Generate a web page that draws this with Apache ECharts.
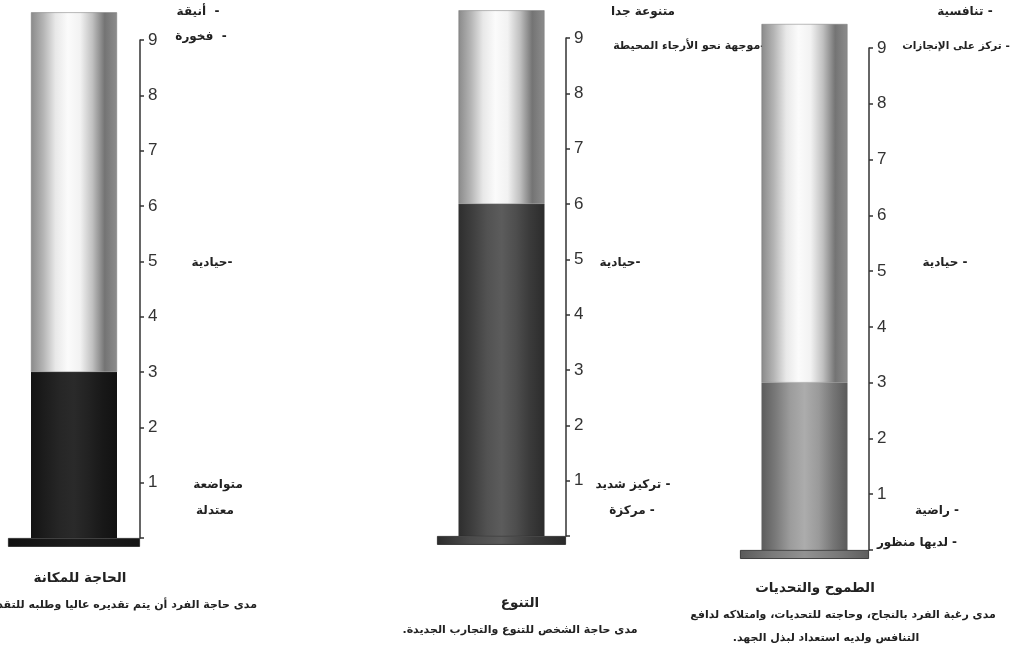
<!DOCTYPE html>
<html>
<head>
<meta charset="utf-8">
<script src="https://cdn.jsdelivr.net/npm/echarts@6/dist/echarts.min.js"></script>
<style>
  html, body { margin: 0; padding: 0; background: #fff; }
  #mainChart { width: 1020px; height: 649px; }
</style>
</head>
<body>
<div id="mainChart"></div>
<script>
// 数据
const panelNames = ['الحاجة للمكانة', 'التنوع', 'الطموح والتحديات'];
const fillValues = [3, 6, 3];
const tubeTops = [9.5, 9.5, 9.43];
const baseDepth = -0.16;
const scaleMin = 0;
const scaleMax = 9;

const RLM = '\u200F';
const scaleLabelsP1 = ['أنيقة  -', 'فخورة  -', 'حيادية-', 'متواضعة', 'معتدلة'];
const scaleLabelsP2 = ['متنوعة جدا', 'موجهة نحو الأرجاء المحيطة-', 'حيادية-', 'تركيز شديد -', 'مركزة -'];
const scaleLabelsP3 = ['تنافسية -', 'تركز على الإنجازات -', 'حيادية -', 'راضية -', 'لديها منظور -'];
const descLines = [
    ['مدى حاجة الفرد أن يتم تقديره عاليا وطلبه للتقدير على إنجازاته.' + RLM],
    ['مدى حاجة الشخص للتنوع والتجارب الجديدة.' + RLM],
    ['مدى رغبة الفرد بالنجاح، وحاجته للتحديات، وامتلاكه لدافع', 'التنافس ولديه استعداد لبذل الجهد.' + RLM]
];

// 布局
const grids = [
    { left: 8, top: 40, width: 132, height: 498 },
    { left: 437, top: 38, width: 129, height: 498 },
    { left: 740, top: 48, width: 129, height: 502 }
];

const hGrad = (stops) => new echarts.graphic.LinearGradient(0, 0, 1, 0,
    stops.map((c, i) => ({ offset: i / (stops.length - 1), color: c })));

const glassColor = hGrad(['#8a8a8a', '#b4b4b4', '#e8e8e8', '#fbfbfb', '#f2f2f2', '#c0c0c0', '#747474', '#8c8c8c']);
const fillColors = [
    hGrad(['#131313', '#1d1d1d', '#262626', '#2a2a2a', '#222222', '#181818', '#121212']),
    hGrad(['#2e2e2e', '#3f3f3f', '#525252', '#5c5c5c', '#4e4e4e', '#3a3a3a', '#2c2c2c']),
    hGrad(['#5c5c5c', '#7a7a7a', '#9c9c9c', '#acacac', '#9a9a9a', '#767676', '#5a5a5a'])
];
const baseColors = [
    hGrad(['#111111', '#1c1c1c', '#151515']),
    hGrad(['#2c2c2c', '#4a4a4a', '#5a5a5a', '#3a3a3a', '#2a2a2a']),
    hGrad(['#5a5a5a', '#7a7a7a', '#929292', '#7a7a7a', '#5e5e5e'])
];

const xAxes = [], yAxes = [], series = [];
grids.forEach((g, i) => {
    xAxes.push({ gridIndex: i, type: 'category', data: [panelNames[i]], show: false });
    xAxes.push({ gridIndex: i, type: 'category', data: [panelNames[i]], show: false });
    yAxes.push({
        gridIndex: i, type: 'value', position: 'right',
        min: scaleMin, max: scaleMax, interval: 1,
        axisLine: { show: true, lineStyle: { color: '#333', width: 1.5 } },
        axisTick: { show: true, length: 4, lineStyle: { color: '#333', width: 1.5 } },
        axisLabel: {
            color: '#333', fontSize: 17, fontFamily: 'Liberation Sans, Arial', margin: 8,
            formatter: v => (v === 0 ? '' : String(v))
        },
        splitLine: { show: false }
    });
    series.push({
        type: 'bar', xAxisIndex: i * 2, yAxisIndex: i, stack: 'tube' + i,
        barWidth: 86, clip: false, silent: true,
        itemStyle: { color: fillColors[i] },
        data: [fillValues[i]]
    });
    series.push({
        type: 'bar', xAxisIndex: i * 2, yAxisIndex: i, stack: 'tube' + i,
        barWidth: 86, clip: false, silent: true,
        itemStyle: { color: glassColor, borderColor: '#777', borderWidth: 0.5 },
        data: [tubeTops[i] - fillValues[i]]
    });
    series.push({
        type: 'bar', xAxisIndex: i * 2 + 1, yAxisIndex: i,
        barWidth: '100%', clip: false, silent: true,
        itemStyle: { color: baseColors[i], borderColor: '#222', borderWidth: 0.8 },
        data: [baseDepth]
    });
});

// 文字
const labelFont = { fontSize: 12, fontWeight: 'bold', fontFamily: 'DejaVu Sans', fill: '#222' };
const txt = (text, x, y, align, extra) => ({
    type: 'text', x: x, y: y, silent: true,
    style: Object.assign({ text: text, textAlign: align || 'center', textVerticalAlign: 'middle' }, labelFont, extra || {})
});

const labelPos = [
    [[198, 12, 12], [201, 37, 12], [212, 263, 12], [218, 485, 12], [215, 511, 12]],
    [[643, 12, 12], [689, 46, 11], [620, 263, 12], [633, 485, 12], [632, 511, 12]],
    [[965, 12, 12], [956, 46, 10.5], [945, 263, 12], [937, 511, 12], [917, 543, 12]]
];
const allLabels = [scaleLabelsP1, scaleLabelsP2, scaleLabelsP3];
const graphics = [];
allLabels.forEach((arr, p) => arr.forEach((t, k) => {
    const pos = labelPos[p][k];
    graphics.push(txt(t, pos[0], pos[1], 'center', { fontSize: pos[2] }));
}));

const titleFont = { fontSize: 13.5, fontWeight: 'bold', fill: '#222' };
graphics.push(txt(panelNames[0], 80, 578, 'center', titleFont));
graphics.push(txt(panelNames[1], 520, 603, 'center', titleFont));
graphics.push(txt(panelNames[2], 815, 588, 'center', titleFont));
graphics.push(txt(descLines[0][0], 257, 605, 'right', { fontSize: 11 }));
graphics.push(txt(descLines[1][0], 520, 630, 'center', { fontSize: 11 }));
graphics.push(txt(descLines[2][0], 843, 615, 'center', { fontSize: 11 }));
graphics.push(txt(descLines[2][1], 826, 638, 'center', { fontSize: 11 }));

const chart = echarts.init(document.getElementById('mainChart'));
chart.setOption({
    animation: false,
    backgroundColor: '#fff',
    grid: grids,
    xAxis: xAxes,
    yAxis: yAxes,
    series: series,
    graphic: graphics
});
</script>
</body>
</html>
